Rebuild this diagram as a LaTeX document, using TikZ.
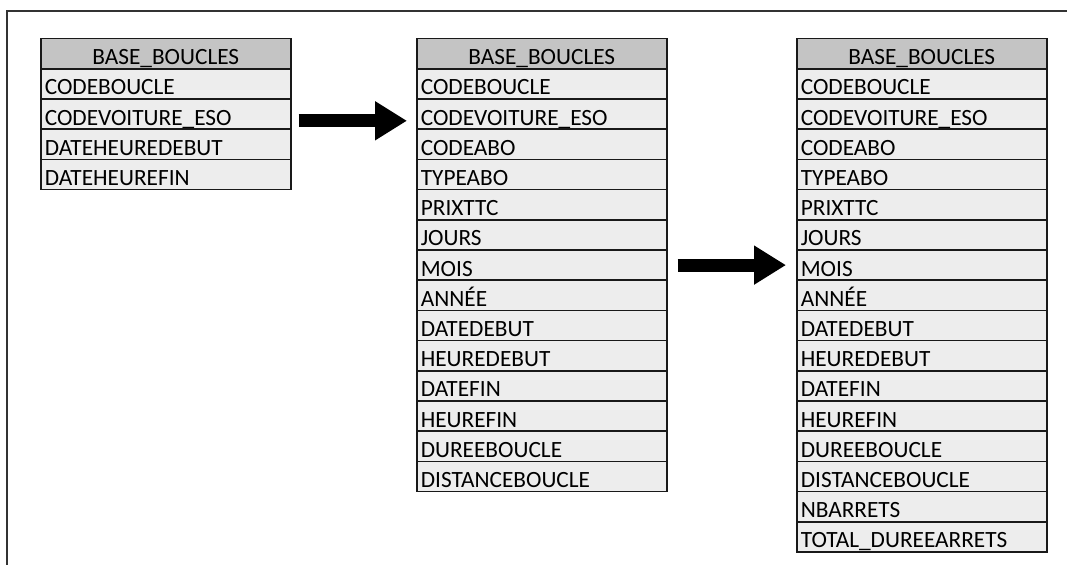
\documentclass[tikz,border=0pt]{standalone}
\usepackage{fontspec}
\setmainfont{Carlito}
\usetikzlibrary{arrows.meta}
\definecolor{headgray}{HTML}{C4C4C4}
\definecolor{rowgray}{HTML}{EDEDED}
\tikzset{
  field/.style={draw=black!90, line width=1.6pt, fill=rowgray, anchor=north west,
    minimum width=250pt, minimum height=30.2pt, text width=242pt,
    inner xsep=4pt, inner ysep=0pt, text height=22pt, text depth=0pt,
    align=left, font=\fontsize{23.3}{28}\selectfont},
  header/.style={field, fill=headgray, align=center},
  blockarrow/.style={line width=13pt, -{Triangle[length=32pt,width=37pt]}}
}
\begin{document}
\begin{tikzpicture}[x=1pt,y=-1pt]
    \useasboundingbox (0,0) rectangle (1067,565);
    \draw [line width=2.2pt, black!80] (1067,11) -| (7,565);
    % first table
    \node [header] (t1-h) at (40,37.8) {BASE\_BOUCLES};
    \foreach \name [count=\i] in {CODEBOUCLE, CODEVOITURE\_ESO, DATEHEUREDEBUT, DATEHEUREFIN}
        \node [field] (t1-\i) at (40,{68+(\i-1)*30.2}) {\name};
    % second table
    \node [header] (t2-h) at (416,37.8) {BASE\_BOUCLES};
    \foreach \name [count=\i] in {CODEBOUCLE, CODEVOITURE\_ESO, CODEABO, TYPEABO, PRIXTTC, JOURS, MOIS, ANNÉE, DATEDEBUT, HEUREDEBUT, DATEFIN, HEUREFIN, DUREEBOUCLE, DISTANCEBOUCLE}
        \node [field] (t2-\i) at (416,{68+(\i-1)*30.2}) {\name};
    % third table
    \node [header] (t3-h) at (796,37.8) {BASE\_BOUCLES};
    \foreach \name [count=\i] in {CODEBOUCLE, CODEVOITURE\_ESO, CODEABO, TYPEABO, PRIXTTC, JOURS, MOIS, ANNÉE, DATEDEBUT, HEUREDEBUT, DATEFIN, HEUREFIN, DUREEBOUCLE, DISTANCEBOUCLE, NBARRETS, TOTAL\_DUREEARRETS}
        \node [field] (t3-\i) at (796,{68+(\i-1)*30.2}) {\name};
    % arrows
    \draw [blockarrow] ([xshift=7pt,yshift=-6.7pt]t1-2.east) -- ([xshift=-9pt,yshift=-6.7pt]t2-2.west);
    \draw [blockarrow] ([xshift=10pt]t2-7.east) -- ([xshift=-10pt]t3-7.west);
\end{tikzpicture}
\end{document}
